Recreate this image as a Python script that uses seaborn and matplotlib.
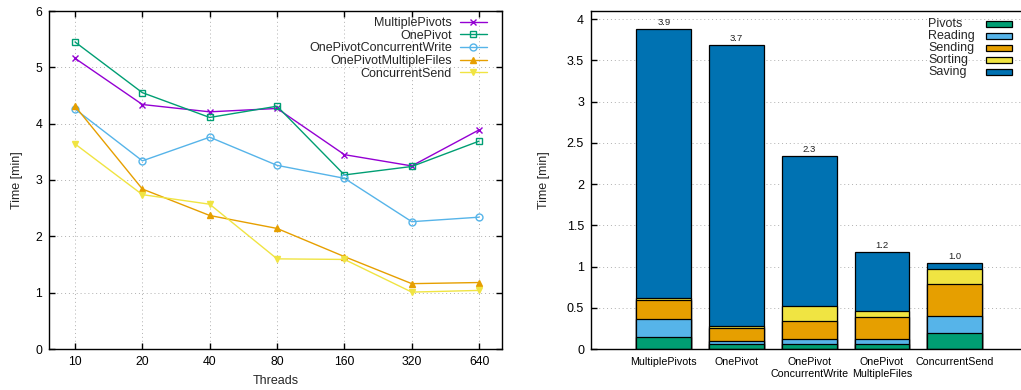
import numpy as np
import pandas as pd
import seaborn as sns
import matplotlib
matplotlib.use("Agg")
import matplotlib.pyplot as plt
from matplotlib.patches import Rectangle

# ---- left chart: total time per thread count
threads = [10, 20, 40, 80, 160, 320, 640]
multiple_pivots = [5.16, 4.34, 4.21, 4.27, 3.45, 3.25, 3.89]
one_pivot = [5.45, 4.55, 4.11, 4.31, 3.09, 3.24, 3.69]
one_pivot_conc_write = [4.26, 3.34, 3.76, 3.26, 3.03, 2.26, 2.34]
one_pivot_multi_files = [4.31, 2.84, 2.37, 2.14, 1.64, 1.16, 1.18]
concurrent_send = [3.64, 2.74, 2.57, 1.60, 1.59, 1.01, 1.04]

# ---- right chart: breakdown per variant
variants = ["MultiplePivots", "OnePivot", "OnePivot\nConcurrentWrite",
            "OnePivot\nMultipleFiles", "ConcurrentSend"]
pivots = [0.15, 0.057, 0.057, 0.057, 0.19]
reading = [0.21, 0.043, 0.063, 0.063, 0.21]
sending = [0.23, 0.16, 0.22, 0.27, 0.39]
sorting = [0.025, 0.023, 0.18, 0.07, 0.18]
saving = [3.265, 3.40, 1.82, 0.72, 0.07]

sns.set_theme(style="ticks")
plt.rcParams['font.family'] = ['Liberation Sans', 'DejaVu Sans']
plt.rcParams['axes.linewidth'] = 1.0

fig = plt.figure(figsize=(10.21, 3.9), dpi=100)
ax1 = fig.add_axes([49 / 1021, 1 - 349 / 390, 453 / 1021, 338 / 390])
ax2 = fig.add_axes([591 / 1021, 1 - 349 / 390, 436.5 / 1021, 338 / 390])

grid_kw = dict(color="#b0b0b0", linestyle=(0, (1, 3)), linewidth=0.7)

# left: line chart
series = [
    ("MultiplePivots", multiple_pivots, "#9400D3", "x", None),
    ("OnePivot", one_pivot, "#009E73", "s", "none"),
    ("OnePivotConcurrentWrite", one_pivot_conc_write, "#56B4E9", "o", "none"),
    ("OnePivotMultipleFiles", one_pivot_multi_files, "#E69F00", "^", None),
    ("ConcurrentSend", concurrent_send, "#F0E442", "v", None),
]
for name, vals, col, mk, mfc in series:
    kw = dict(marker=mk, markersize=5, markeredgewidth=1.0, linewidth=1.0,
              markeredgecolor=col)
    if mfc:
        kw["markerfacecolor"] = mfc
    sns.lineplot(x=threads, y=vals, color=col, label=name, ax=ax1, **kw)

ax1.set_xscale("log", base=2)
ax1.set_xlim(7.65, 810)
ax1.set_ylim(0, 6)
ax1.set_xticks(threads)
ax1.set_xticklabels([str(t) for t in threads])
ax1.xaxis.set_minor_locator(matplotlib.ticker.NullLocator())
ax1.set_yticks(range(0, 7))
ax1.grid(True, **grid_kw)
ax1.tick_params(direction="in", length=4, width=1, top=True, right=True,
                labelsize=8.8, pad=5, colors="black")
ax1.set_xlabel("Threads", fontsize=9, labelpad=5)
ax1.set_ylabel("Time [min]", fontsize=9, labelpad=9)
for s in ax1.spines.values():
    s.set_visible(True)
    s.set_color("black")
ax1.legend(loc="upper right", bbox_to_anchor=(0.967, 0.982), frameon=False,
           markerfirst=False, fontsize=9, labelspacing=0.05,
           handlelength=2.2, handletextpad=0.6, borderpad=0, borderaxespad=0)

# right: stacked bars (cumulative totals drawn tallest first)
layers = [("Pivots", pivots, "#009E73"), ("Reading", reading, "#56B4E9"),
          ("Sending", sending, "#E69F00"), ("Sorting", sorting, "#F0E442"),
          ("Saving", saving, "#0072B2")]
cum = np.cumsum(np.array([l[1] for l in layers]), axis=0)
df = pd.DataFrame({"variant": variants})
for i in reversed(range(len(layers))):
    df["h"] = cum[i]
    sns.barplot(data=df, x="variant", y="h", order=variants, color=layers[i][2],
                saturation=1, width=0.75, edgecolor="black", linewidth=0.9,
                ax=ax2)

ax2.bar_label(ax2.containers[0], fmt="%.1f", padding=1.5, fontsize=6.8,
              color="#222222")
ax2.set_xlim(-1, 5)
ax2.set_ylim(0, 4.1)
ax2.set_yticks(np.arange(0, 4.01, 0.5))
ax2.set_yticklabels(["0", "0.5", "1", "1.5", "2", "2.5", "3", "3.5", "4"])
ax2.grid(True, axis="y", **grid_kw)
ax2.set_axisbelow(True)
ax2.tick_params(axis="y", direction="in", length=4, width=1, labelsize=9,
                pad=5, colors="black")
ax2.tick_params(axis="x", length=0, labelsize=7.7, pad=6, colors="black")
ax2.set_xlabel("")
ax2.set_ylabel("Time [min]", fontsize=9, labelpad=12)
for s in ax2.spines.values():
    s.set_visible(True)
    s.set_color("black")

# legend for the stacked bars: names left, swatches right
for k, (name, _, col) in enumerate(layers):
    yc = 0.962 - k * 0.0358
    ax2.text(0.772, yc, name, transform=ax2.transAxes, fontsize=9,
             va="center", ha="left")
    ax2.add_patch(Rectangle((0.905, yc - 0.009), 0.0596, 0.018,
                            transform=ax2.transAxes, facecolor=col,
                            edgecolor="black", linewidth=0.9))

fig.savefig("out.png", dpi=100)
